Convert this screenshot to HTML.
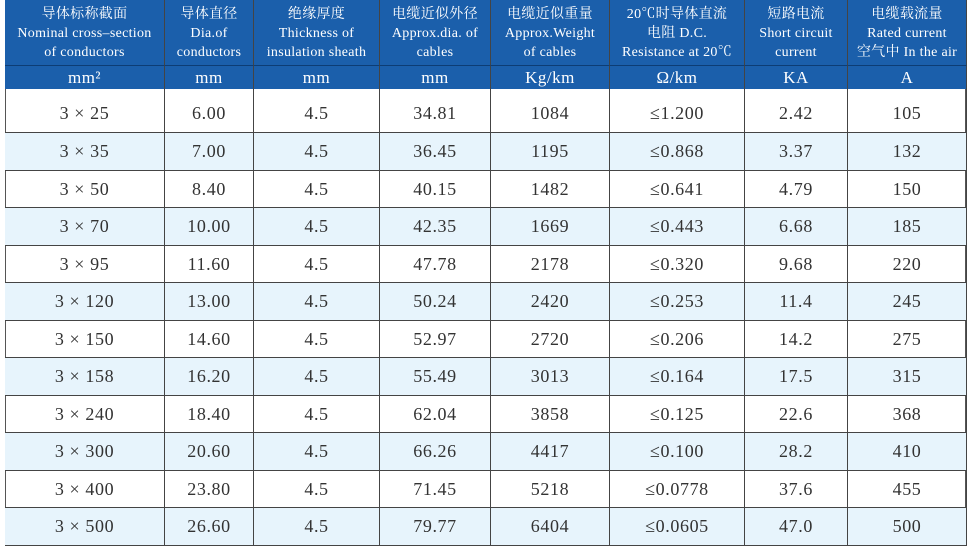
<!DOCTYPE html>
<html><head><meta charset="utf-8"><style>
body{margin:0;width:969px;height:547px;background:#fff;overflow:hidden;font-family:"Liberation Serif","Noto Serif CJK SC","Noto Sans CJK SC",serif;}
.t{position:absolute;left:5px;top:0;width:962px;height:545px;border-right:2px solid #555;border-left:1px solid #555;border-bottom:2px solid #555;box-sizing:border-box;}
.c{position:absolute;display:flex;align-items:center;justify-content:center;text-align:center;box-sizing:border-box;border-right:1px solid #444;white-space:nowrap;}
.h{background:#1b5fab;color:#fff;font-size:14px;line-height:19px;letter-spacing:0.3px;border-bottom:1px solid #0d3d75;padding-top:2px;}
.u{background:#1b5fab;color:#fff;font-size:17px;letter-spacing:0.5px;}
.d{font-size:18px;color:#333;border-bottom:1px solid #444;letter-spacing:0.6px;}
.f{padding-top:6px;}
.a{background:#e7f4fc;}
</style></head><body>
<div class="t"></div>
<div id="g"></div>
<script>
var xs=[5,165,254,380,491,610,745,848,967];
var H=["导体标称截面<br>Nominal cross–section<br>of conductors","导体直径<br>Dia.of<br>conductors","绝缘厚度<br>Thickness of<br>insulation sheath","电缆近似外径<br>Approx.dia. of<br>cables","电缆近似重量<br>Approx.Weight<br>of cables","20℃时导体直流<br>电阻 D.C.<br>Resistance at 20℃","短路电流<br>Short circuit<br>current","电缆载流量<br>Rated current<br>空气中 In the air"];
var U=["mm²","mm","mm","mm","Kg/km","Ω/km","KA","A"];
var D=[["3 × 25","6.00","4.5","34.81","1084","≤1.200","2.42","105"],
["3 × 35","7.00","4.5","36.45","1195","≤0.868","3.37","132"],
["3 × 50","8.40","4.5","40.15","1482","≤0.641","4.79","150"],
["3 × 70","10.00","4.5","42.35","1669","≤0.443","6.68","185"],
["3 × 95","11.60","4.5","47.78","2178","≤0.320","9.68","220"],
["3 × 120","13.00","4.5","50.24","2420","≤0.253","11.4","245"],
["3 × 150","14.60","4.5","52.97","2720","≤0.206","14.2","275"],
["3 × 158","16.20","4.5","55.49","3013","≤0.164","17.5","315"],
["3 × 240","18.40","4.5","62.04","3858","≤0.125","22.6","368"],
["3 × 300","20.60","4.5","66.26","4417","≤0.100","28.2","410"],
["3 × 400","23.80","4.5","71.45","5218","≤0.0778","37.6","455"],
["3 × 500","26.60","4.5","79.77","6404","≤0.0605","47.0","500"]];
var s="";
function cell(cls,x0,x1,y0,y1,txt){return '<div class="c '+cls+'" style="left:'+x0+'px;width:'+(x1-x0)+'px;top:'+y0+'px;height:'+(y1-y0)+'px">'+txt+'</div>';}
for(var i=0;i<8;i++){
 s+=cell("h",xs[i],xs[i+1],0,66,H[i]);
 s+=cell("u",xs[i],xs[i+1],66,89,U[i]);
}
for(var j=0;j<12;j++){
 var y0=(j==0)?89:Math.round(133+(j-1)*37.5),y1=Math.round(133+j*37.5);
 for(var i=0;i<8;i++) s+=cell("d"+(j%2?" a":"")+(j==0?" f":""),xs[i],xs[i+1],y0,y1,D[j][i]);
}
document.getElementById("g").innerHTML=s;
</script>
</body></html>
